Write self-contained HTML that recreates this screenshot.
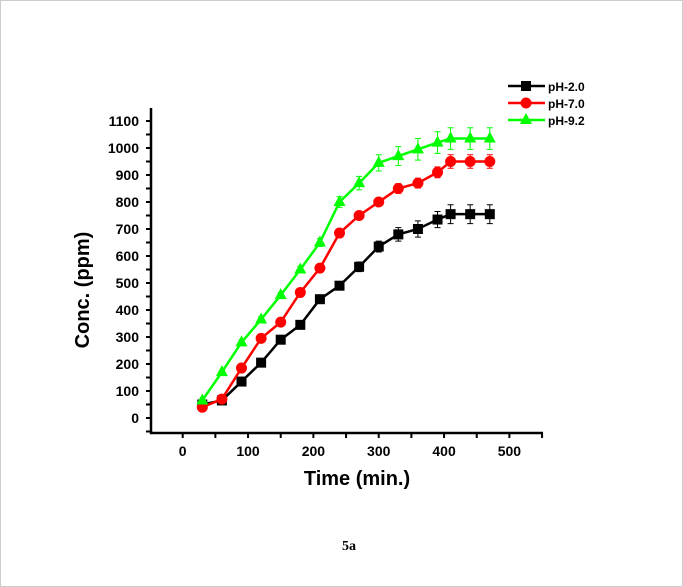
<!DOCTYPE html>
<html><head><meta charset="utf-8"><style>
body{margin:0;background:#fff;}
svg{display:block;font-family:"Liberation Sans",Arial,sans-serif;}
</style></head><body>
<svg width="683" height="587">
<rect x="0.5" y="0.5" width="682" height="586" fill="#fff" stroke="#ccc"/>
<g id="g"></g>
<text x="349" y="550" font-family="Liberation Serif" font-weight="bold" font-size="14" text-anchor="middle">5a</text>
</svg>
<script>
const times=[30,60,90,120,150,180,210,240,270,300,330,360,390,410,440,470];
const ph20=[50,65,135,205,290,345,440,490,560,635,680,700,735,755,755,755];
const ph70=[40,70,185,295,355,465,555,685,750,800,850,870,910,950,950,950];
const ph92=[65,170,280,365,455,550,650,800,870,945,970,995,1020,1035,1035,1035];
const err20=[5,5,8,8,8,8,12,15,18,20,25,30,30,35,35,35];
const err70=[5,5,8,8,8,8,10,12,15,15,18,18,20,25,25,25];
const err92=[5,5,8,10,10,12,15,20,25,30,35,40,40,40,40,40];
const xTicks=[0,100,200,300,400,500];
const yTicks=[0,100,200,300,400,500,600,700,800,900,1000,1100];
const series=[{name:"pH-2.0",v:ph20,e:err20,c:"#000",m:"sq"},{name:"pH-7.0",v:ph70,e:err70,c:"#ff0000",m:"ci"},{name:"pH-9.2",v:ph92,e:err92,c:"#00ff00",m:"tr"}];
const X=v=>182.7+v*0.6534, Y=v=>418-v*0.27;
const NS="http://www.w3.org/2000/svg", g=document.getElementById('g');
function el(t,a,p){const e=document.createElementNS(NS,t);for(const k in a)e.setAttribute(k,a[k]);(p||g).appendChild(e);return e;}
// axes
let ax=el('path',{d:`M151 108 V433 H543`,fill:'none',stroke:'#000','stroke-width':2.5});


for(let v=-50;v<=1150;v+=50){const y=Y(v);if(y<108||y>433)continue;const l=el('line',{x1:146,x2:151,y1:y,y2:y,stroke:'#000','stroke-width':2});

}
yTicks.forEach(v=>{const t=el('text',{x:139,y:Y(v)+5,'text-anchor':'end','font-size':14,'font-weight':'bold'});t.textContent=v;

});
for(let v=-50;v<=550;v+=50){const x=X(v);if(x<151||x>543)continue;const l=el('line',{x1:x,x2:x,y1:433,y2:438,stroke:'#000','stroke-width':2});

}
xTicks.forEach(v=>{const t=el('text',{x:X(v),y:456,'text-anchor':'middle','font-size':14,'font-weight':'bold'});t.textContent=v;

});
let xt=el('text',{x:357,y:485,'text-anchor':'middle','font-size':20,'font-weight':'bold'});xt.textContent='Time (min.)';


let yt=el('text',{x:0,y:0,transform:'translate(89,290) rotate(-90)','text-anchor':'middle','font-size':20,'font-weight':'bold'});yt.textContent='Conc. (ppm)';


function marker(m,x,y,c,p){
 if(m==='sq')return el('rect',{x:x-5,y:y-5,width:10,height:10,fill:c},p);
 if(m==='ci')return el('circle',{cx:x,cy:y,r:5.5,fill:c},p);
 return el('path',{d:`M${x} ${y-7} L${x+6} ${y+4} L${x-6} ${y+4}Z`,fill:c},p);
}
series.forEach((s,si)=>{
 const grp=el('g',{});
 
 
 s.v.forEach((v,i)=>{const x=X(times[i]),y1=Y(v+s.e[i]),y2=Y(v-s.e[i]);
  const eb=el('path',{d:`M${x} ${y1}V${y2}M${x-3} ${y1}H${x+3}M${x-3} ${y2}H${x+3}`,stroke:s.c,'stroke-width':1,fill:'none'},grp);
  
  });
 const pl=el('polyline',{points:s.v.map((v,i)=>X(times[i])+','+Y(v)).join(' '),fill:'none',stroke:s.c,'stroke-width':2.5},grp);
 
 
 s.v.forEach((v,i)=>{const mk=marker(s.m,X(times[i]),Y(v),s.c,grp);
  
  });
 // legend
 const ly=86+si*17;
 const lg=el('g',{});
 
 
 el('line',{x1:508,x2:545,y1:ly,y2:ly,stroke:s.c,'stroke-width':2.5},lg);
 marker(s.m,526,ly,s.c,lg);
 const t=el('text',{x:548,y:ly+5,'font-size':12,'font-weight':'bold'},lg);t.textContent=s.name;
});
</script>
</body></html>
